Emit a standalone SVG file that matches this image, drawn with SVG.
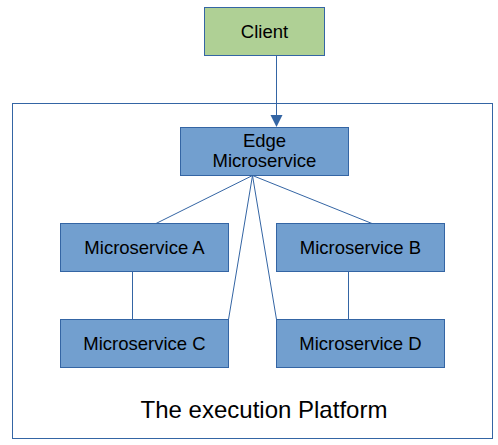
<svg xmlns="http://www.w3.org/2000/svg" width="498" height="445" viewBox="0 0 498 445">
<style>
.box{fill:#729fcf;stroke:#3465a4;stroke-width:1}
.green{fill:#afd095;stroke:#3465a4;stroke-width:1}
.lbl{font-family:"Liberation Sans",Arial,sans-serif;font-size:18.5px;fill:#000;text-anchor:middle}
.conn{stroke:#3465a4;stroke-width:1;fill:none}
</style>
<rect id="platform" x="12.5" y="103.5" width="480" height="335" fill="#fff" stroke="#3465a4"/>
<text x="264" y="418" style="font-family:'Liberation Sans',Arial,sans-serif;font-size:24px;text-anchor:middle">The execution Platform</text>
<g id="connectors">
<line class="conn" x1="276.5" y1="55.5" x2="276.5" y2="116"/>
<path d="M270.5,115 L282.5,115 L276.5,127 Z" fill="#3465a4"/>
<line class="conn" x1="252.5" y1="175.5" x2="156" y2="223.5"/>
<line class="conn" x1="252.5" y1="175.5" x2="372" y2="223.5"/>
<line class="conn" x1="252.5" y1="175.5" x2="228.5" y2="319.5"/>
<line class="conn" x1="252.5" y1="175.5" x2="276.5" y2="319.5"/>
<line class="conn" x1="132.5" y1="271.5" x2="132.5" y2="319.5"/>
<line class="conn" x1="348.5" y1="271.5" x2="348.5" y2="319.5"/>
</g>
<g id="client"><rect class="green" x="204.5" y="7.5" width="120" height="48"/><text class="lbl" x="264.5" y="38">Client</text></g>
<g id="edge"><rect class="box" x="180.5" y="127.5" width="168" height="48"/><text class="lbl" x="264.5" y="147">Edge</text><text class="lbl" x="264.5" y="167">Microservice</text></g>
<g id="msA"><rect class="box" x="60.5" y="223.5" width="168" height="48"/><text class="lbl" x="144.5" y="254">Microservice A</text></g>
<g id="msB"><rect class="box" x="276.5" y="223.5" width="168" height="48"/><text class="lbl" x="360.5" y="254">Microservice B</text></g>
<g id="msC"><rect class="box" x="60.5" y="319.5" width="168" height="48"/><text class="lbl" x="144.5" y="350">Microservice C</text></g>
<g id="msD"><rect class="box" x="276.5" y="319.5" width="168" height="48"/><text class="lbl" x="360.5" y="350">Microservice D</text></g>
</svg>
